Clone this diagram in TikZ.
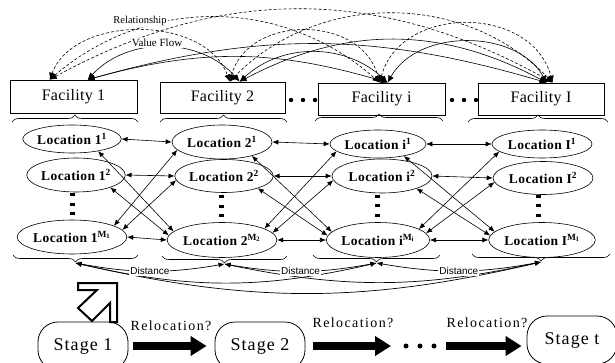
\documentclass[tikz,border=0pt]{standalone}
\usepackage{fontspec}
\setmainfont{Liberation Serif}
\newfontfamily\locfont[LetterSpace=3]{Liberation Serif}
\newfontfamily\facfont[LetterSpace=2]{Liberation Serif}
\newfontfamily\stagefont[LetterSpace=6]{Liberation Serif}
\newfontfamily\relocfont[LetterSpace=10]{Liberation Serif}
\newfontfamily\distfont{Liberation Sans}
\usetikzlibrary{shapes.geometric,arrows.meta,decorations.pathreplacing}
\tikzset{
  fac/.style={draw, rectangle, inner sep=0pt, line width=0.7pt,
    font=\facfont\fontsize{16}{18}\selectfont},
  loc/.style={draw, ellipse, inner sep=0pt, line width=0.6pt,
    font=\locfont\bfseries\fontsize{13.5}{15}\selectfont},
  dualtip/.style={{Latex[length=6pt,width=5pt]}-{Latex[length=6pt,width=5pt]}},
  conn/.style={dualtip, line width=0.6pt},
  rel/.style={{Latex[length=7pt,width=6pt]}-{Latex[length=7pt,width=6pt]}, line width=0.6pt, dash pattern=on 3pt off 2pt},
  val/.style={{Latex[length=7pt,width=6pt]}-{Latex[length=7pt,width=6pt]}, line width=0.6pt},
  bracedec/.style={decorate, decoration={brace, amplitude=7pt}, line width=0.6pt},
  distarr/.style={dualtip, line width=0.7pt},
  distlbl/.style={font=\distfont\fontsize{10}{12}\selectfont, fill=white, inner sep=1pt},
  stagebox/.style={draw, rectangle, rounded corners=20pt, line width=0.8pt,
    minimum width=90pt, minimum height=48pt, font=\stagefont\fontsize{18}{20}\selectfont},
  reloc/.style={font=\relocfont\fontsize{14}{16}\selectfont, inner sep=0pt},
  blockarr/.style={line width=8pt, -{Triangle[length=16pt,width=19pt]}},
}
\begin{document}
\begin{tikzpicture}[x=1pt,y=-1pt]
\useasboundingbox (0,0) rectangle (615,363);
\clip (0,0) rectangle (615,363);

% facilities
\node[fac, minimum width=127pt, minimum height=33pt] (f1) at (73.5,96.5) {Facility 1};
\node[fac, minimum width=125pt, minimum height=31pt] (f2) at (222.5,97.5) {Facility 2};
\node[fac, minimum width=127pt, minimum height=32pt] (fi) at (381.5,99) {Facility i};
\node[fac, minimum width=126pt, minimum height=32pt] (fI) at (541,99) {Facility I};

% dots between facilities
\foreach \x in {291,303,315,452,464,476}{\fill (\x,100) circle (2.2pt);}

% top arc endpoints
\coordinate (r1) at ([xshift=40pt]f1.north west);
\coordinate (v1) at ([xshift=78pt]f1.north west);
\coordinate (r2) at ([xshift=70pt]f2.north west);
\coordinate (v2) at ([xshift=80pt]f2.north west);
\coordinate (ri) at ([xshift=62pt]fi.north west);
\coordinate (vi) at ([xshift=70pt]fi.north west);
\coordinate (rI) at ([xshift=75pt]fI.north west);
\coordinate (vI) at ([xshift=69pt]fI.north west);

% relationship (dashed)
\draw[rel] (r1) to[bend left=70] (r2);
\draw[rel] (r1) to[bend left=41] (ri);
\draw[rel] (r1) to[bend left=29] (rI);
\draw[rel] (r2) to[bend left=75, looseness=1.2] (ri);
\draw[rel] (r2) to[bend left=46] (rI);
\draw[rel] (ri) to[bend left=75, looseness=1.2] (rI);
% value flow (solid)
\draw[val] (v1) to[bend left=48] (v2);
\draw[val] (v1) to[bend left=16] (vi);
\draw[val] (v1) to[bend left=16] (vI);
\draw[val] (v2) to[bend left=43] (vi);
\draw[val] (v2) to[bend left=28] (vI);
\draw[val] (vi) to[bend left=61] (vI);

\node[font=\fontsize{10.5}{12}\selectfont, fill=white, inner sep=1pt] (lrel) at (140,21) {Relationship};
\node[font=\fontsize{11}{12}\selectfont, fill=white, inner sep=1pt] (lval) at (157,43) {Value Flow};

% top braces
\draw[bracedec] (12,122) -- (138,122);
\draw[bracedec] (160,122) -- (287,122);
\draw[bracedec] (315,121) -- (443,121);
\draw[bracedec] (468,122) -- (608,122);

% locations
\node[loc, minimum width=96pt, minimum height=28pt] (L11) at (72,139) {Location 1\textsuperscript{1}};
\node[loc, minimum width=98pt, minimum height=34pt] (L12) at (76,175) {Location 1\textsuperscript{2}};
\node[loc, minimum width=100pt, minimum height=34pt] (L1M) at (72,237) {Location 1\textsuperscript{M\textsubscript{1}}};
\node[loc, minimum width=100pt, minimum height=34pt] (L21) at (222,142) {Location 2\textsuperscript{1}};
\node[loc, minimum width=98pt, minimum height=33pt] (L22) at (224,176) {Location 2\textsuperscript{2}};
\node[loc, minimum width=104pt, minimum height=35pt] (L2M) at (222,240) {Location 2\textsuperscript{M\textsubscript{2}}};
\node[loc, minimum width=96pt, minimum height=28pt] (Li1) at (378,144) {Location i\textsuperscript{1}};
\node[loc, minimum width=100pt, minimum height=34pt] (Li2) at (382,176) {Location i\textsuperscript{2}};
\node[loc, minimum width=100pt, minimum height=35pt] (LiM) at (378,240) {Location i\textsuperscript{M\textsubscript{i}}};
\node[loc, minimum width=100pt, minimum height=28pt] (LI1) at (542,144) {Location I\textsuperscript{1}};
\node[loc, minimum width=100pt, minimum height=33pt] (LI2) at (543,178) {Location I\textsuperscript{2}};
\node[loc, minimum width=100pt, minimum height=35pt] (LIM) at (542,240) {Location I\textsuperscript{M\textsubscript{I}}};

% vertical dots
\foreach \x/\a/\b/\c in {72/195/205/214, 221/197/207/216, 377/197/206/216, 538/197/206/216}{
  \fill (\x-2.5,\a-1.5) rectangle (\x+2.5,\a+1.5);
  \fill (\x-2.5,\b-1.5) rectangle (\x+2.5,\b+1.5);
  \fill (\x-2.5,\c-1.5) rectangle (\x+2.5,\c+1.5);
}

% inter-column arrows
\foreach \c/\d in {1/2, 2/i, i/I}{
  \draw[conn] (L\c1.east) -- (L\d1.west);
  \draw[conn] (L\c2.east) -- (L\d2.west);
  \draw[conn] (L\c M.east) -- (L\d M.west);
  \draw[conn] (L\c1.-25) -- (L\d M.170);
  \draw[conn] (L\c2.-20) -- (L\d M.175);
  \draw[conn] (L\c M.15) -- (L\d1.190);
  \draw[conn] (L\c M.8) -- (L\d2.185);
}

% bottom braces
\draw[bracedec] (138,255) -- (13,255);
\draw[bracedec] (287,256) -- (162,256);
\draw[bracedec] (440,255) -- (313,255);
\draw[bracedec] (610,254) -- (472,254);
\coordinate (b1) at (75.5,263);
\coordinate (b2) at (224.5,264);
\coordinate (b3) at (376.5,263);
\coordinate (b4) at (541,262);

% distance arrows
\draw[distarr] (b1) to[bend right=13] (b3);
\draw[distarr] (b2) to[bend right=12] (b4);
\draw[distarr] (b1) to[bend right=13] (b4);
\draw[distarr] (b1) to[bend right=10] node[distlbl] {Distance} (b2);
\draw[distarr] (b2) to[bend right=10] node[distlbl] {Distance} (b3);
\draw[distarr] (b3) to[bend right=10] node[distlbl] {Distance} (b4);

% hollow arrow
\draw[line width=2pt, line join=miter] (78,283) -- (117,283) -- (117,322) -- (110,322) -- (110,303)
  -- (92,321) -- (78,308) -- (97,290) -- (78,290) -- cycle;

% stages
\node[stagebox] (s1) at (83,346) {Stage 1};
\node[stagebox] (s2) at (260,346) {Stage 2};
\node[stagebox] (st) at (572,340) {Stage t};
\coordinate (d1) at (391,346);
\coordinate (d2) at (446,346);
\draw[blockarr, shorten <=5pt, shorten >=8pt] (s1.east) -- (s2.west);
\draw[blockarr, shorten <=8pt] (s2.east) -- (d1);
\draw[blockarr, shorten >=5pt] (d2) -- (st.west |- d2);
\foreach \x in {406,420,434}{\fill (\x,346) circle (2.5pt);}

\node[reloc] (rl1) at (171,326) {Relocation?};
\node[reloc] (rl2) at (353,323) {Relocation?};
\node[reloc] (rl3) at (487,323) {Relocation?};
\end{tikzpicture}
\end{document}
